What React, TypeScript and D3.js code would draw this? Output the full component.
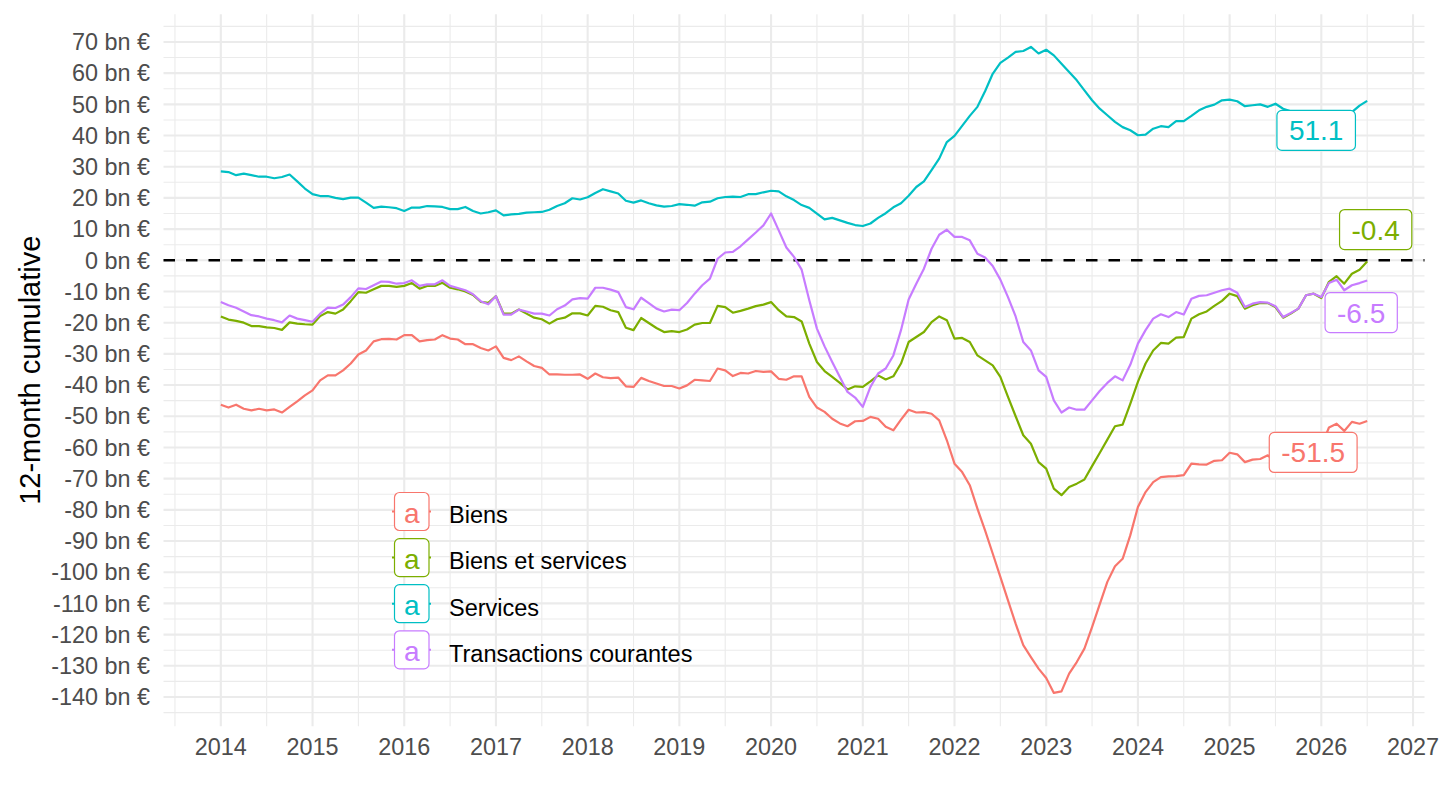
import React, { useEffect, useRef } from 'react';
import * as d3 from 'd3';

// Monthly values, Jan 2014 -> Jul 2026 (bn €, 12-month cumulative)
const startYear = 2014;

const biens = [
  -46.3, -47.2, -46.3, -47.6, -48.1, -47.6, -48.1, -47.8, -48.8, -47.0, -45.2, -43.3,
  -41.7, -38.5, -36.9, -36.9, -35.3, -33.1, -30.2, -28.9, -26.0, -25.3, -25.2, -25.4,
  -24.0, -24.0, -26.0, -25.6, -25.4, -24.0, -25.1, -25.4, -26.9, -26.9, -28.1, -28.9,
  -27.6, -31.3, -32.0, -30.8, -32.4, -33.9, -34.5, -36.6, -36.6, -36.7, -36.7, -36.6,
  -38.0, -36.3, -37.5, -37.8, -37.6, -40.4, -40.6, -37.7, -38.7, -39.5, -40.3, -40.3,
  -41.1, -40.1, -38.3, -38.5, -38.7, -34.7, -35.3, -37.1, -36.1, -36.3, -35.5, -35.8,
  -35.6, -38.0, -38.3, -37.2, -37.2, -43.8, -47.2, -48.6, -50.8, -52.3, -53.2, -51.6,
  -51.5, -50.2, -50.8, -53.4, -54.5, -51.1, -47.9, -48.8, -48.7, -49.2, -51.3, -57.7,
  -65.2, -67.9, -72.1, -79.6, -86.6, -94.0, -101.5, -109.0, -116.5, -123.4, -127.2, -130.9,
  -133.9, -138.7, -138.2, -132.5, -128.8, -124.5, -117.6, -110.3, -103.1, -98.1, -95.7, -88.2,
  -79.1, -74.3, -71.1, -69.5, -69.3, -69.2, -68.9, -65.2, -65.4, -65.5, -64.3, -64.1,
  -61.7, -62.2, -64.7, -63.9, -63.7, -62.5, -65.0, -66.8, -64.9, -63.0, -58.8, -58.5,
  -59.6, -53.6, -52.4, -54.7, -51.8, -52.4, -51.5,
];

const biensServices = [
  -18.0, -19.0, -19.4, -20.0, -21.1, -21.1, -21.5, -21.7, -22.3, -19.9, -20.3, -20.5,
  -20.6, -17.9, -16.6, -17.1, -15.8, -13.1, -10.2, -10.4, -9.3, -8.2, -8.2, -8.5,
  -8.2, -7.3, -9.1, -8.2, -8.2, -7.2, -8.8, -9.3, -10.0, -11.1, -13.3, -13.6,
  -11.5, -17.1, -17.1, -15.8, -17.1, -18.4, -18.9, -20.3, -18.9, -18.4, -17.0, -17.0,
  -17.7, -14.6, -14.9, -16.0, -16.6, -21.6, -22.4, -18.5, -20.1, -21.7, -23.0, -22.7,
  -23.0, -22.2, -20.6, -20.1, -20.1, -14.6, -15.0, -16.8, -16.2, -15.5, -14.7, -14.2,
  -13.4, -16.0, -18.0, -18.2, -19.6, -26.7, -32.6, -35.5, -37.4, -39.3, -41.4, -40.4,
  -40.6, -38.8, -36.9, -38.2, -37.2, -33.1, -26.2, -24.6, -23.0, -19.8, -18.0, -19.2,
  -25.1, -24.9, -26.2, -30.5, -32.1, -33.7, -37.4, -43.8, -50.0, -56.1, -58.8, -64.7,
  -66.8, -73.2, -75.3, -72.7, -71.6, -70.3, -66.0, -61.8, -57.5, -53.2, -52.7, -46.0,
  -39.0, -33.1, -28.9, -26.5, -26.7, -24.8, -24.6, -18.7, -17.3, -16.4, -14.6, -13.0,
  -10.7, -11.5, -15.5, -14.4, -13.7, -13.7, -15.0, -18.4, -17.1, -15.5, -11.2, -10.7,
  -12.1, -6.9, -5.1, -7.5, -4.3, -3.0, -0.4,
];

const services = [
  28.5, 28.3, 27.3, 27.8, 27.3, 26.8, 26.8, 26.3, 26.7, 27.5, 25.3, 23.0,
  21.2, 20.6, 20.6, 20.0, 19.6, 20.1, 20.1, 18.5, 16.8, 17.2, 17.0, 16.7,
  15.8, 16.9, 16.9, 17.4, 17.3, 17.1, 16.4, 16.4, 17.1, 15.8, 15.0, 15.4,
  16.0, 14.4, 14.7, 14.9, 15.3, 15.4, 15.5, 16.2, 17.4, 18.3, 19.9, 19.5,
  20.2, 21.6, 22.8, 22.1, 21.4, 19.1, 18.5, 19.2, 18.3, 17.6, 17.2, 17.4,
  18.0, 17.8, 17.5, 18.6, 18.8, 19.9, 20.3, 20.4, 20.3, 21.2, 21.2, 21.8,
  22.3, 22.1, 20.5, 19.3, 17.7, 16.8, 15.0, 13.1, 13.6, 12.8, 12.0, 11.3,
  11.0, 11.8, 13.6, 15.1, 17.0, 18.3, 20.7, 23.5, 25.3, 28.9, 32.6, 37.9,
  39.9, 43.1, 46.3, 49.2, 54.2, 59.8, 63.3, 65.0, 66.8, 67.1, 68.4, 66.3,
  67.5, 65.7, 63.0, 60.4, 57.7, 54.5, 51.3, 48.6, 46.5, 44.4, 42.7, 41.7,
  40.1, 40.3, 42.2, 43.0, 42.7, 44.6, 44.6, 46.3, 48.1, 49.2, 49.9, 51.3,
  51.5, 51.0, 49.4, 49.7, 50.0, 49.2, 50.2, 48.6, 47.8, 47.5, 47.6, 47.8,
  47.5, 46.7, 47.3, 47.2, 47.5, 49.6, 51.1,
];

const transactions = [
  -13.4, -14.4, -15.2, -16.4, -17.6, -18.0, -18.7, -19.2, -19.9, -17.7, -18.7, -19.2,
  -19.7, -17.1, -15.2, -15.3, -14.2, -11.8, -9.0, -9.2, -8.0, -6.8, -6.9, -7.5,
  -7.3, -6.4, -8.2, -7.7, -7.7, -6.4, -8.2, -8.9, -9.6, -10.9, -13.1, -14.1,
  -11.5, -17.4, -17.4, -15.8, -16.4, -17.1, -17.1, -17.7, -15.7, -14.5, -12.5, -12.1,
  -12.3, -8.8, -8.8, -9.4, -10.2, -15.0, -15.7, -12.0, -13.7, -15.5, -16.4, -15.8,
  -16.0, -13.7, -10.7, -8.0, -5.9, 0.5, 2.5, 2.7, 4.5, 6.7, 8.9, 11.2,
  15.0, 9.6, 4.1, 1.1, -3.0, -12.8, -21.9, -27.6, -32.6, -37.4, -42.2, -44.0,
  -47.0, -40.6, -36.3, -34.7, -30.5, -22.4, -12.6, -7.5, -2.7, 3.7, 8.2, 9.8,
  7.5, 7.5, 6.4, 2.1, 0.9, -1.8, -6.2, -11.8, -18.0, -26.2, -28.9, -35.3,
  -37.4, -44.9, -48.8, -47.2, -47.9, -47.9, -44.9, -41.9, -39.3, -37.2, -38.5, -33.5,
  -26.7, -22.4, -18.7, -17.3, -18.2, -16.6, -17.4, -12.3, -11.4, -11.2, -10.4, -9.6,
  -9.1, -10.4, -15.0, -13.9, -13.4, -13.6, -14.7, -18.2, -16.9, -15.5, -11.2, -10.7,
  -11.8, -7.3, -6.2, -9.6, -8.0, -7.3, -6.5,
];

const seriesNames = ['Biens', 'Biens et services', 'Services', 'Transactions courantes'];
const seriesValues = [biens, biensServices, services, transactions];
const seriesColors = ['#F8766D', '#7CAE00', '#00BFC4', '#C77CFF'];
const yearTicks = d3.range(2014, 2028);
const yTicks = d3.range(-140, 71, 10);
const yTitle = '12-month cumulative';

// label nudges (px) relative to each series' last point
const labelNudges: [number, number][] = [[-54, 31.5], [8.5, -32], [-51, 29.5], [-6, 32]];

const FONT = '"Liberation Sans", Arial, Helvetica, sans-serif';

export default function App() {
  const ref = useRef<SVGSVGElement>(null);

  useEffect(() => {
    const svg = d3.select(ref.current);
    svg.selectAll('*').remove();

    const x = d3.scaleLinear().domain([2013.375, 2027.125]).range([163.5, 1424.5]);
    const y = d3.scaleLinear().domain([-149.4, 78.9]).range([726.3, 14.2]);
    const [xl, xr] = x.range();
    const [yb, yt] = y.range();
    const t = (i: number) => startYear + i / 12;

    const grid = svg.append('g');
    // minor grid
    grid.selectAll('line.mx').data(d3.range(2013.5, 2027, 1)).join('line')
      .attr('x1', d => x(d)).attr('x2', d => x(d)).attr('y1', yt).attr('y2', yb)
      .attr('stroke', '#EBEBEB').attr('stroke-width', 1.1);
    grid.selectAll('line.my').data(d3.range(-145, 80, 10)).join('line')
      .attr('y1', d => y(d)).attr('y2', d => y(d)).attr('x1', xl).attr('x2', xr)
      .attr('stroke', '#EBEBEB').attr('stroke-width', 1.1);
    // major grid
    grid.selectAll('line.Mx').data(yearTicks).join('line')
      .attr('x1', d => x(d)).attr('x2', d => x(d)).attr('y1', yt).attr('y2', yb)
      .attr('stroke', '#EBEBEB').attr('stroke-width', 2.1);
    grid.selectAll('line.My').data(yTicks).join('line')
      .attr('y1', d => y(d)).attr('y2', d => y(d)).attr('x1', xl).attr('x2', xr)
      .attr('stroke', '#EBEBEB').attr('stroke-width', 2.1);

    // axes text
    svg.append('g').selectAll('text').data(yTicks).join('text')
      .attr('x', 150).attr('y', d => y(d) + 8.2)
      .attr('text-anchor', 'end').attr('font-family', FONT).attr('font-size', 23.4)
      .attr('fill', '#4D4D4D').text(d => `${d} bn €`);
    svg.append('g').selectAll('text').data(yearTicks).join('text')
      .attr('x', d => x(d)).attr('y', 755)
      .attr('text-anchor', 'middle').attr('font-family', FONT).attr('font-size', 23.4)
      .attr('fill', '#4D4D4D').text(d => String(d));
    svg.append('text')
      .attr('transform', `translate(39.5,${(yt + yb) / 2}) rotate(-90)`)
      .attr('text-anchor', 'middle').attr('font-family', FONT).attr('font-size', 29)
      .attr('fill', '#000').text(yTitle);

    // zero line
    svg.append('line')
      .attr('x1', xl).attr('x2', xr).attr('y1', y(0)).attr('y2', y(0))
      .attr('stroke', '#000').attr('stroke-width', 2.6).attr('stroke-dasharray', '11.5 11');

    // series lines
    const line = d3.line<number>().x((_, i) => x(t(i))).y(d => y(d));
    svg.append('g').selectAll('path').data(seriesValues).join('path')
      .attr('d', d => line(d) as string)
      .attr('fill', 'none')
      .attr('stroke', (_, i) => seriesColors[i])
      .attr('stroke-width', 2.2)
      .attr('stroke-linejoin', 'round');

    // end labels
    const lab = svg.append('g');
    seriesValues.forEach((vals, i) => {
      const n = vals.length - 1;
      const cx = x(t(n)) + labelNudges[i][0];
      const cy = y(vals[n]) + labelNudges[i][1];
      const g = lab.append('g');
      const rect = g.append('rect');
      const txt = g.append('text')
        .attr('x', cx).attr('y', cy + 10)
        .attr('text-anchor', 'middle').attr('font-family', FONT).attr('font-size', 28)
        .attr('fill', seriesColors[i]).text(vals[n].toFixed(1));
      const w = (txt.node() as SVGTextElement).getComputedTextLength();
      const rw = w + 24;
      rect.attr('x', cx - rw / 2).attr('y', cy - 20).attr('width', rw).attr('height', 40)
        .attr('rx', 5).attr('fill', '#fff').attr('stroke', seriesColors[i]).attr('stroke-width', 1.2);
    });

    // legend
    const leg = svg.append('g');
    seriesNames.forEach((name, i) => {
      const cy = 511.5 + i * 46.1;
      leg.append('line').attr('x1', 392).attr('x2', 431).attr('y1', cy).attr('y2', cy)
        .attr('stroke', seriesColors[i]).attr('stroke-width', 2);
      leg.append('rect').attr('x', 394.5).attr('y', cy - 19).attr('width', 34.5).attr('height', 38)
        .attr('rx', 5).attr('fill', '#fff').attr('stroke', seriesColors[i]).attr('stroke-width', 1.2);
      leg.append('text').attr('x', 411.7).attr('y', cy + 11.3)
        .attr('text-anchor', 'middle').attr('font-family', FONT).attr('font-size', 28)
        .attr('fill', seriesColors[i]).text('a');
      leg.append('text').attr('x', 449).attr('y', cy + 11.8)
        .attr('font-family', FONT).attr('font-size', 23.5).attr('fill', '#000').text(name);
    });
  }, []);

  return (
    <svg
      ref={ref}
      width={1440}
      height={810}
      style={{ position: 'absolute', left: 0, top: 0, background: '#fff' }}
    />
  );
}
